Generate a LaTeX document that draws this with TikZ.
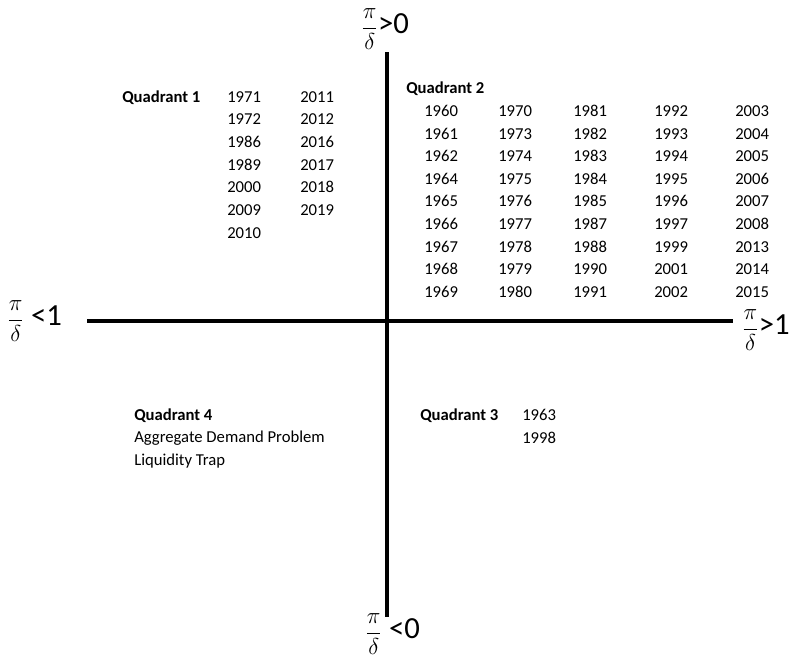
\documentclass[tikz,border=0pt]{standalone}
\usepackage{fontspec}
\setmainfont{Carlito}

\newcommand{\pidelta}{{\fontsize{17}{20}\selectfont\(\displaystyle\frac{\pi}{\delta}\)}}

\tikzset{
  year/.style={anchor=base west, inner sep=0pt, font=\fontsize{12.5}{15}\selectfont},
  quadlabel/.style={anchor=base west, inner sep=0pt, font=\fontsize{12.5}{15}\selectfont\bfseries},
  axislabel/.style={anchor=west, inner sep=0pt, font=\fontsize{23}{27}\selectfont},
  axis/.style={line width=3pt},
}

\begin{document}
\begin{tikzpicture}[x=0.75pt,y=-0.75pt]
 \useasboundingbox (0,0) rectangle (794,658);
 % axes
 \coordinate (west) at (87,321);
 \coordinate (east) at (733,321);
 \coordinate (north) at (387,52);
 \coordinate (south) at (387,617);
 \draw[axis] (west) -- (east);
 \draw[axis] (north) -- (south);
 \node[axislabel] (ltop) at (361,29) {\pidelta>0};
 \node[axislabel] (lleft) at (7,321) {\pidelta{} <1};
 \node[axislabel, anchor=east] (lright) at (790,330) {\pidelta>1};
 \node[axislabel] (lbottom) at (365,634) {\pidelta{} <0};
 % quadrant 1
 \node[quadlabel] (qa) at (122,102) {Quadrant 1};
 \foreach \yr [count=\r from 0] in {1971,1972,1986,1989,2000,2009,2010}
   \node[year] (qa-\yr) at (227,102+22.7*\r) {\yr};
 \foreach \yr [count=\r from 0] in {2011,2012,2016,2017,2018,2019}
   \node[year] (qa-\yr) at (300,102+22.7*\r) {\yr};
 % quadrant 2
 \node[quadlabel] (qb) at (406,93) {Quadrant 2};
 \foreach \yr [count=\r from 0] in {1960,1961,1962,1964,1965,1966,1967,1968,1969}
   \node[year] (qb-\yr) at (424,116.5+22.6*\r) {\yr};
 \foreach \yr [count=\r from 0] in {1970,1973,1974,1975,1976,1977,1978,1979,1980}
   \node[year] (qb-\yr) at (498,116.5+22.6*\r) {\yr};
 \foreach \yr [count=\r from 0] in {1981,1982,1983,1984,1985,1987,1988,1990,1991}
   \node[year] (qb-\yr) at (573,116.5+22.6*\r) {\yr};
 \foreach \yr [count=\r from 0] in {1992,1993,1994,1995,1996,1997,1999,2001,2002}
   \node[year] (qb-\yr) at (654,116.5+22.6*\r) {\yr};
 \foreach \yr [count=\r from 0] in {2003,2004,2005,2006,2007,2008,2013,2014,2015}
   \node[year] (qb-\yr) at (735,116.5+22.6*\r) {\yr};
 % quadrant 3
 \node[quadlabel] (qc) at (420,420) {Quadrant 3};
 \node[year] (qc-1963) at (522,420) {1963};
 \node[year] (qc-1998) at (522,443) {1998};
 % quadrant 4
 \node[quadlabel] (qd) at (134,420) {Quadrant 4};
 \node[year] (qd-ad) at (134,442) {Aggregate Demand Problem};
 \node[year] (qd-lt) at (134,465) {Liquidity Trap};
\end{tikzpicture}
\end{document}
